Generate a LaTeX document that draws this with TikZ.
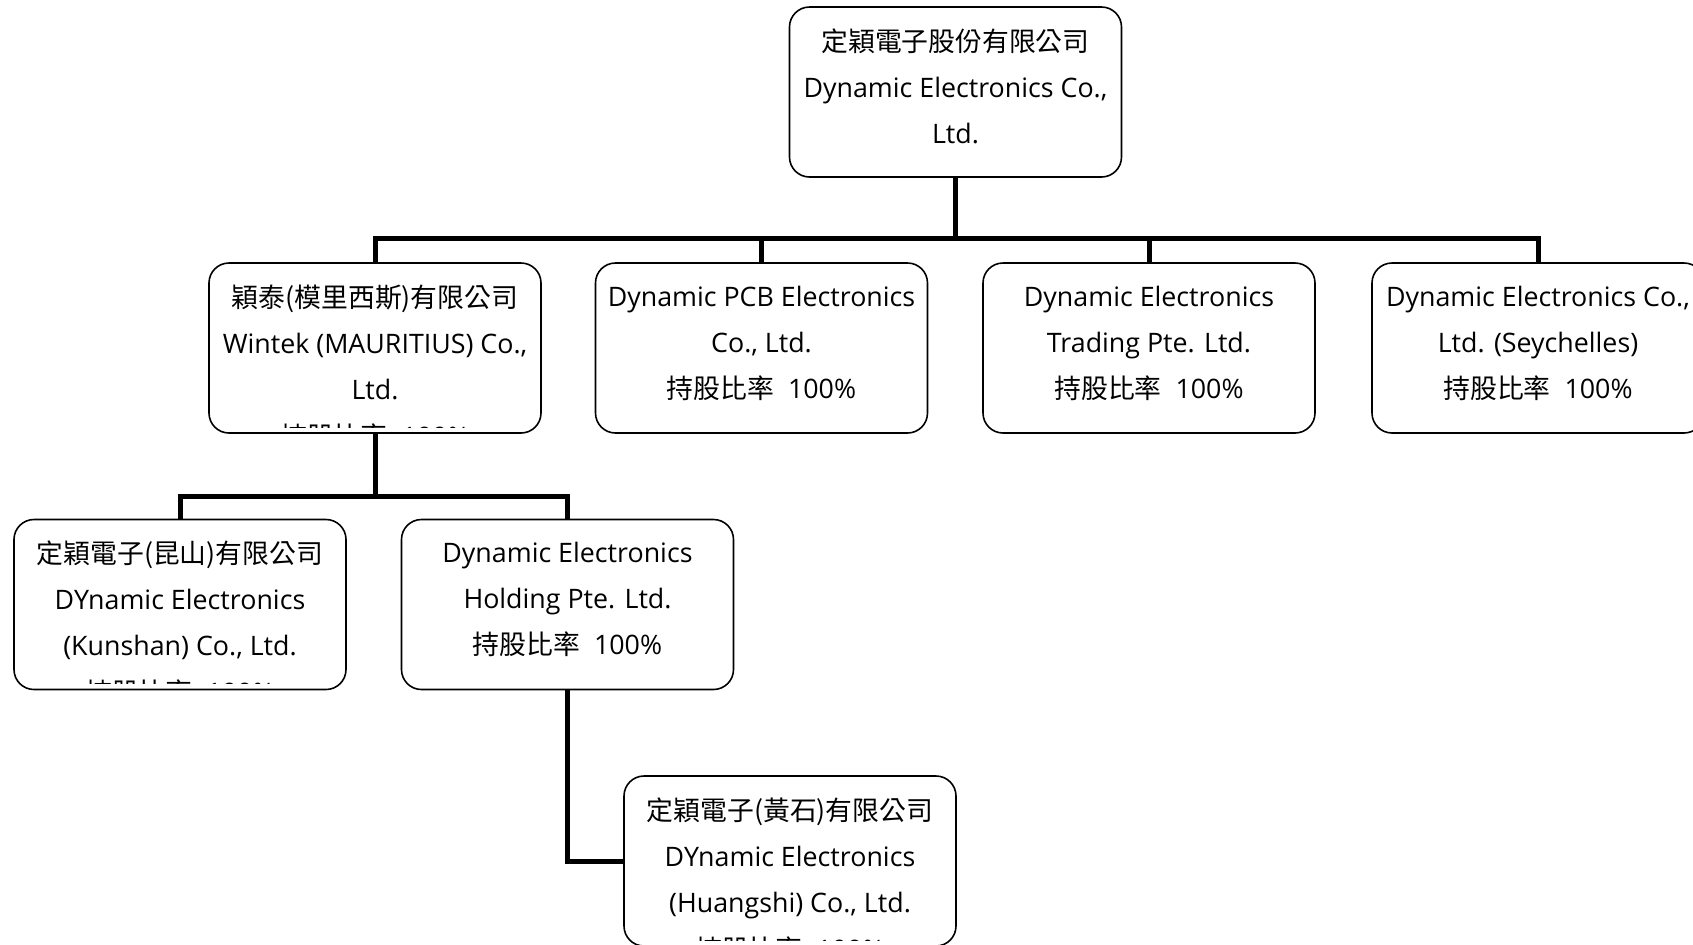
\documentclass[tikz,border=0pt]{standalone}
\usepackage{fontspec}
\setmainfont{Open Sans}
\newfontfamily\cjk{Noto Sans CJK TC}
\usetikzlibrary{positioning}

\tikzset{
  firm/.style={draw, line width=0.8pt, rounded corners=10pt, fill=white,
    minimum width=166pt, minimum height=85pt, inner sep=0pt, align=center,
    text depth=6pt, font=\fontsize{13.4}{23}\selectfont},
  hiddenline/.style={path picture={%
      \clip (path picture bounding box.north west) rectangle ([yshift=3pt]path picture bounding box.south east);
      \node[font=\fontsize{13.4}{23}\selectfont] at ([yshift=-4pt]path picture bounding box.south) {#1};}},
  link/.style={line width=2.5pt}
}
\newcommand{\share}{{\cjk 持股比率}\ \ 100\%}

\begin{document}
\begin{tikzpicture}[x=0.5pt,y=-0.5pt]
  \useasboundingbox (0,0) rectangle (1693,944);

  % parent company
  \node[firm] (dyn) at (955.5,92) {{\cjk 定穎電子股份有限公司}\\Dynamic Electronics Co.,\\Ltd.};

  % second level
  \node[firm, hiddenline=\share] (wintek) at (375,348)
    {{\cjk 穎泰(模里西斯)有限公司}\\Wintek (MAURITIUS) Co.,\\Ltd.};
  \node[firm] (pcb) at (761.5,348) {Dynamic PCB Electronics\\Co., Ltd.\\\share};
  \node[firm] (trading) at (1149,348) {Dynamic Electronics\\Trading Pte. Ltd.\\\share};
  \node[firm] (seych) at (1538,348) {Dynamic Electronics Co.,\\Ltd. (Seychelles)\\\share};

  % third level
  \node[firm, hiddenline=\share] (kunshan) at (180,604.5)
    {{\cjk 定穎電子(昆山)有限公司}\\DYnamic Electronics\\(Kunshan) Co., Ltd.};
  \node[firm] (holding) at (567.5,604.5) {Dynamic Electronics\\Holding Pte. Ltd.\\\share};

  % fourth level
  \node[firm, hiddenline=\share] (huangshi) at (790,861)
    {{\cjk 定穎電子(黃石)有限公司}\\DYnamic Electronics\\(Huangshi) Co., Ltd.};

  \coordinate (bus1) at (0,238);
  \coordinate (bus2) at (0,496);

  % connectors
  \foreach \sub in {wintek,pcb,trading,seych}
    \draw[link] (dyn.south) -- (dyn.south |- bus1) -| (\sub.north);
  \foreach \sub in {kunshan,holding}
    \draw[link] (wintek.south) -- (wintek.south |- bus2) -| (\sub.north);
  \draw[link] (holding.south) |- (huangshi.west);
\end{tikzpicture}
\end{document}
